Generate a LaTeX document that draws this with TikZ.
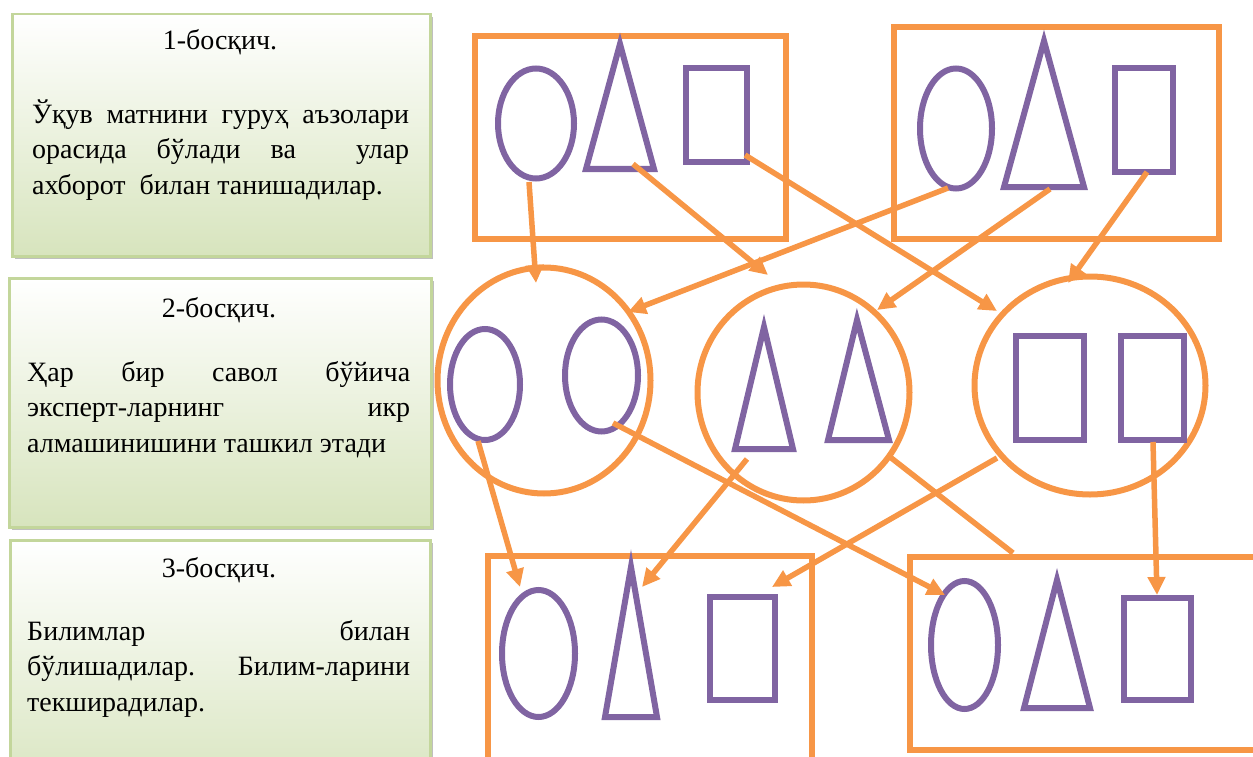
\documentclass[tikz,border=0pt]{standalone}
\usepackage{fontspec}
\setmainfont{Liberation Serif}
\usetikzlibrary{arrows.meta,shadows,positioning}
\definecolor{grpOrange}{HTML}{F79646}
\definecolor{figPurple}{HTML}{8064A2}
\definecolor{stageGreen}{HTML}{D7E4BD}
\definecolor{stageEdge}{HTML}{C3D69B}
\tikzset{
  stagebox/.style={draw=stageEdge, line width=2.5pt, top color=white, bottom color=stageGreen,
    anchor=north west, inner sep=0,
    drop shadow={shadow xshift=3pt, shadow yshift=-3pt, fill=black!50, opacity=.5}},
  stagetitle/.style={anchor=base, inner sep=0, font=\fontsize{28}{34}\selectfont},
  stagetext/.style={anchor=base west, inner sep=0, align=left, font=\fontsize{28}{35.5}\selectfont},
  grp/.style={draw=grpOrange, line width=6pt},
  fig/.style={draw=figPurple, line width=6pt},
  link/.style={draw=grpOrange, line width=5.5pt, -{Triangle[length=18pt,width=17pt]}},
  plainlink/.style={draw=grpOrange, line width=5.5pt},
}
\begin{document}
\begin{tikzpicture}[x=1pt, y=-1pt]
	\useasboundingbox (0,0) rectangle (1253,757);
	\clip (0,0) rectangle (1253,757);
	% босқичлар
	\node[stagebox, minimum width=418, minimum height=242] (stage1) at (11,13) {};
	\node[stagebox, minimum width=422, minimum height=249] (stage2) at (8,277) {};
	\node[stagebox, minimum width=420, minimum height=260] (stage3) at (9,539) {};
	\node[stagetitle] (title1) at (220,50) {1-босқич.};
	\node[stagetitle] (title2) at (219,317) {2-босқич.};
	\node[stagetitle] (title3) at (219,577) {3-босқич.};
	% матн тугунининг base -- охирги қатор
	\node[stagetext] (body1) at (32,194) {\makebox[377pt][s]{Ўқув матнини гуруҳ аъзолари}\\
		\makebox[377pt][s]{орасида бўлади ва\ \ улар}\\
		ахборот\ \ билан танишадилар.};
	\node[stagetext] (body2) at (27,452) {\makebox[383pt][s]{Ҳар бир савол бўйича}\\
		\makebox[383pt][s]{эксперт-ларнинг икр}\\
		алмашинишини ташкил этади};
	\node[stagetext] (body3) at (27,711) {\makebox[383pt][s]{Билимлар билан}\\
		\makebox[383pt][s]{бўлишадилар. Билим-ларини}\\
		текширадилар.};
	% юқори гуруҳлар
	\draw[grp] (475,36) rectangle (786,239);
	\draw[grp] (894,27) rectangle (1219,239);
	\draw[fig] (536,123.5) ellipse [x radius=38, y radius=55];
	\draw[fig] (620,44) -- (654,169) -- (586,169) -- cycle;
	\draw[fig] (686,68) rectangle (747,162);
	\draw[fig] (956,128.5) ellipse [x radius=36, y radius=60];
	\draw[fig] (1044,41) -- (1084,187) -- (1004,187) -- cycle;
	\draw[fig] (1115,68) rectangle (1173,172);
	% эксперт гуруҳлари
	\draw[grp] (544,380.5) ellipse [x radius=106.5, y radius=113];
	\draw[grp] (803.5,392.5) ellipse [x radius=106, y radius=108];
	\draw[grp] (1090,385.5) ellipse [x radius=115.5, y radius=109];
	\draw[fig] (485,384.5) ellipse [x radius=35, y radius=55.5];
	\draw[fig] (601.5,375.5) ellipse [x radius=36.5, y radius=56];
	\draw[fig] (764,327) -- (793,449) -- (735,449) -- cycle;
	\draw[fig] (857,320) -- (889,440) -- (828,440) -- cycle;
	\draw[fig] (1016,336) rectangle (1084,440);
	\draw[fig] (1121,336) rectangle (1184,440);
	% пастки гуруҳлар
	\draw[grp] (488,556) rectangle (812,790);
	\draw[grp] (910,557) rectangle (1290,750);
	\draw[fig] (538.5,653.5) ellipse [x radius=36.5, y radius=63.5];
	\draw[fig] (631,567) -- (657,717) -- (605,717) -- cycle;
	\draw[fig] (710,597) rectangle (775,700);
	\draw[fig] (964.5,645) ellipse [x radius=33.5, y radius=64];
	\draw[fig] (1057,580) -- (1090,708) -- (1024,708) -- cycle;
	\draw[fig] (1124,598) rectangle (1191,700);
	% уланиш нуқталари
	\coordinate (tlOvalFoot) at (529,182);
	\coordinate (tlTriFoot) at (633,164);
	\coordinate (tlSqFoot) at (745,155);
	\coordinate (trOvalFoot) at (948,188);
	\coordinate (trTriFoot) at (1050,189);
	\coordinate (trSqFoot) at (1147,172);
	\coordinate (lRingTop) at (536,283);
	\coordinate (lRingIn) at (628,312);
	\coordinate (mRingIn1) at (768,275);
	\coordinate (mRingIn2) at (877,310);
	\coordinate (rRingIn1) at (997,311);
	\coordinate (rRingIn2) at (1068,283);
	\coordinate (lOvalFoot) at (478,441);
	\coordinate (rOvalFoot) at (613,423);
	\coordinate (mTriFoot) at (747,459);
	\coordinate (mRingOut) at (890,457);
	\coordinate (rRingOut) at (997,458);
	\coordinate (rSqFoot) at (1153,442);
	\coordinate (blOvalTop) at (520,587);
	\coordinate (blTriTop) at (642,587);
	\coordinate (blSqTop) at (772,587);
	\coordinate (brEdge) at (1013,553);
	\coordinate (brOvalTop) at (945,595);
	\coordinate (brSqTop) at (1157,595);
	% стрелкалар
	\draw[link] (tlOvalFoot) -- (lRingTop);
	\draw[link] (tlTriFoot) -- (mRingIn1);
	\draw[link] (tlSqFoot) -- (rRingIn1);
	\draw[link] (trOvalFoot) -- (lRingIn);
	\draw[link] (trTriFoot) -- (mRingIn2);
	\draw[link] (trSqFoot) -- (rRingIn2);
	\draw[link] (lOvalFoot) -- (blOvalTop);
	\draw[link] (rOvalFoot) -- (brOvalTop);
	\draw[link] (mTriFoot) -- (blTriTop);
	\draw[plainlink] (mRingOut) -- (brEdge);
	\draw[link] (rRingOut) -- (blSqTop);
	\draw[link] (rSqFoot) -- (brSqTop);
\end{tikzpicture}
\end{document}
